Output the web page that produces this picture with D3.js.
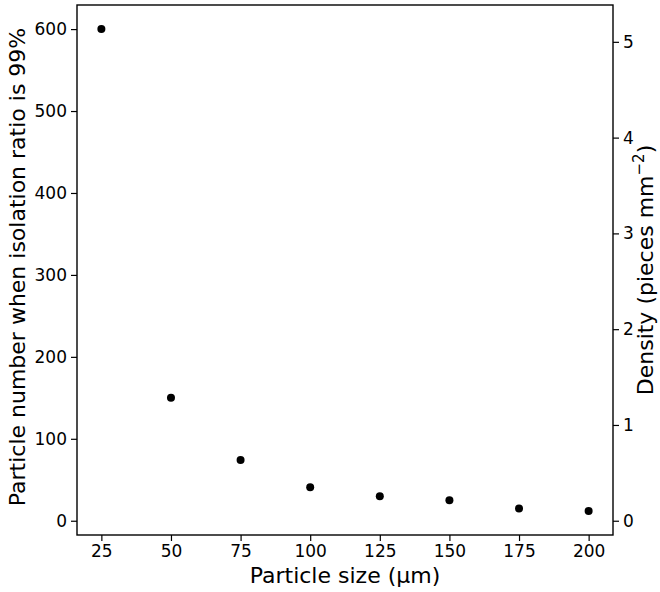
<!DOCTYPE html>
<html>
<head>
<meta charset="utf-8">
<script src="https://cdn.jsdelivr.net/npm/d3@7"></script>
<style>
  body { margin: 0; background: #fff; }
  text { font-family: "DejaVu Sans", sans-serif; fill: #000; }
</style>
</head>
<body>
<div id="chart"></div>
<script>
var sizes = [25, 50, 75, 100, 125, 150, 175, 200];
var counts = [600, 150, 74, 41, 30, 25, 15, 12];
var xTicks = [25, 50, 75, 100, 125, 150, 175, 200];
var yTicks = [0, 100, 200, 300, 400, 500, 600];
var densityTicks = [0, 1, 2, 3, 4, 5];
// right axis is the same data converted to pieces per mm^2
var densityPerParticle = 0.008555;

var width = 660, height = 592;
var margin = {top: 5, right: 47, bottom: 57, left: 77};

var svg = d3.select("#chart")
    .append("svg")
    .attr("width", width)
    .attr("height", height);

function pad(ext) {
    var d = (ext[1] - ext[0]) * 0.05;
    return [ext[0] - d, ext[1] + d];
}

var x = d3.scaleLinear()
    .domain(pad(d3.extent(sizes)))
    .range([margin.left, width - margin.right]);

var yDom = pad(d3.extent(counts));
var y = d3.scaleLinear()
    .domain(yDom)
    .range([height - margin.bottom, margin.top]);

var y2 = d3.scaleLinear()
    .domain([yDom[0] * densityPerParticle, yDom[1] * densityPerParticle])
    .range([height - margin.bottom, margin.top]);

function styleAxis(g) {
    g.select(".domain").remove();
    g.selectAll(".tick line").attr("stroke", "#000").attr("stroke-width", 1.2);
    g.selectAll(".tick text").style("font-size", "17px").attr("fill", "#111");
}

svg.append("g")
    .attr("transform", "translate(0," + (height - margin.bottom) + ")")
    .call(d3.axisBottom(x).tickValues(xTicks).tickSize(6).tickPadding(4))
    .call(styleAxis);

svg.append("g")
    .attr("transform", "translate(" + margin.left + ",0)")
    .call(d3.axisLeft(y).tickValues(yTicks).tickSize(6).tickPadding(4))
    .call(styleAxis);

svg.append("g")
    .attr("transform", "translate(" + (width - margin.right) + ",0)")
    .call(d3.axisRight(y2).tickValues(densityTicks).tickFormat(d3.format("d")).tickSize(6).tickPadding(4))
    .call(styleAxis);

// frame
svg.append("rect")
    .attr("x", margin.left)
    .attr("y", margin.top)
    .attr("width", width - margin.left - margin.right)
    .attr("height", height - margin.top - margin.bottom)
    .attr("fill", "none")
    .attr("stroke", "#000")
    .attr("stroke-width", 1.4);

//points
svg.selectAll(".dot")
    .data(sizes)
    .enter()
    .append("circle")
    .attr("class", "dot")
    .attr("cx", function(d) { return x(d); })
    .attr("cy", function(d, i) { return y(counts[i]); })
    .attr("r", 4)
    .attr("fill", "#000");

// axis labels
var midX = (margin.left + width - margin.right) / 2;
var midY = (margin.top + height - margin.bottom) / 2;

svg.append("text")
    .attr("x", midX)
    .attr("y", 583)
    .attr("text-anchor", "middle")
    .style("font-size", "22px")
    .text("Particle size (\u03bcm)");

svg.append("text")
    .attr("transform", "translate(25," + (midY - 3) + ") rotate(-90)")
    .attr("text-anchor", "middle")
    .style("font-size", "22px")
    .text("Particle number when isolation ratio is 99%");

var rl = svg.append("text")
    .attr("transform", "translate(653," + midY + ") rotate(-90)")
    .attr("text-anchor", "middle")
    .style("font-size", "22px");
rl.append("tspan").text("Density (pieces mm");
rl.append("tspan").attr("dy", -9).style("font-size", "15px").text("\u22122");
rl.append("tspan").attr("dy", 9).text(")");
</script>
</body>
</html>
